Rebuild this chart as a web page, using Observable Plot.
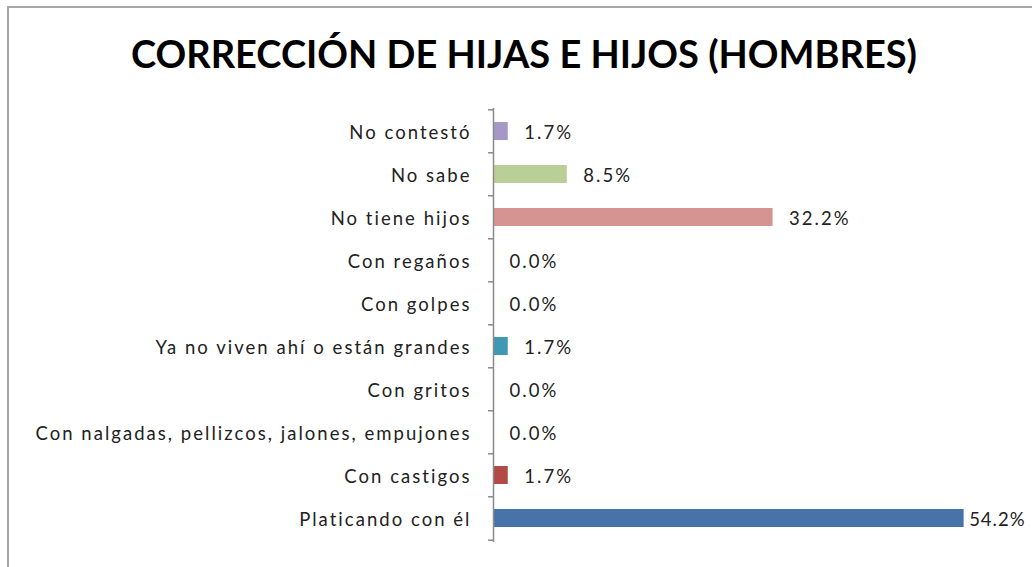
<!DOCTYPE html>
<html>
<head>
<meta charset="utf-8">
<script src="https://cdn.jsdelivr.net/npm/d3@7"></script>
<script src="https://cdn.jsdelivr.net/npm/@observablehq/plot@0.6"></script>
<style>
  html, body { margin: 0; padding: 0; background: #fff; }
  #wrap { position: relative; width: 1032px; height: 567px; overflow: hidden; background: #fff; }
  #frame { position: absolute; left: 7px; top: 6px; width: 1100px; height: 700px; border: 2px solid #a6a6a6; box-sizing: border-box; }
  #title { position: absolute; left: 0; top: 0; width: 1048px; height: 90px; text-align: center;
           font-family: Lato, "Open Sans", sans-serif; font-weight: bold; font-size: 38px; line-height: 38px;
           padding-top: 34px; box-sizing: border-box; color: #000; white-space: nowrap; }
  #chart { position: absolute; left: 0; top: 90px; }
  #chart svg { overflow: visible; }
</style>
</head>
<body>
<div id="wrap">
  <div id="frame"></div>
  <div id="title">CORRECCIÓN DE HIJAS E HIJOS (HOMBRES)</div>
  <div id="chart"></div>
</div>
<script>
const categories = [
  "No contestó",
  "No sabe",
  "No tiene hijos",
  "Con regaños",
  "Con golpes",
  "Ya no viven ahí o están grandes",
  "Con gritos",
  "Con nalgadas, pellizcos, jalones, empujones",
  "Con castigos",
  "Platicando con él"
];
const values = [1.7, 8.5, 32.2, 0.0, 0.0, 1.7, 0.0, 0.0, 1.7, 54.2];
const colors = ["#a597c6", "#bacf98", "#d59392", "#f79646", "#8064a2", "#3f99b3", "#9bbb59", "#c0504d", "#b24a47", "#4773a9"];

const data = categories.map((c, i) => ({category: c, value: values[i], color: colors[i]}));

const W = 1032, H = 477;
const mTop = 18, mBottom = 25, mLeft = 493, mRight = 18;
const step = (H - mTop - mBottom) / categories.length;
const font = "Lato, 'Open Sans', sans-serif";
const fs = 18.5;

const chart = Plot.plot({
  width: W,
  height: H,
  marginTop: mTop,
  marginBottom: mBottom,
  marginLeft: mLeft,
  marginRight: mRight,
  style: {fontFamily: font, fontSize: fs + "px", color: "#222", background: "transparent"},
  x: {domain: [0, 60], axis: null},
  y: {domain: categories, paddingInner: 0.58, paddingOuter: 0.29, axis: null},
  marks: [
    Plot.barX(data, {y: "category", x: "value", fill: "color"}),
    Plot.ruleX([0], {stroke: "#8a8a8a", strokeWidth: 1.5}),
    Plot.ruleY(categories, {y: d => d, x1: 0, x2: 0, insetLeft: -5, dy: -step / 2, stroke: "#8a8a8a", strokeWidth: 1.5}),
    Plot.ruleY([categories[categories.length - 1]], {y: d => d, x1: 0, x2: 0, insetLeft: -5, dy: step / 2, stroke: "#8a8a8a", strokeWidth: 1.5}),
    Plot.axisY({tickSize: 0, tickPadding: 22, fontSize: fs, fill: "#222", dy: 2, label: null, className: "ylab"}),
    Plot.text(data.filter(d => d.value < 50), {y: "category", x: "value", text: d => d.value.toFixed(1) + "%",
      textAnchor: "start", dx: 16, dy: 2, fontSize: fs, fill: "#222", className: "vlab"}),
    Plot.text(data.filter(d => d.value >= 50), {y: "category", x: "value", text: d => d.value.toFixed(1) + "%",
      textAnchor: "start", dx: 5, dy: 2, fontSize: fs, fill: "#222", className: "vlab"})
  ]
});
document.getElementById("chart").appendChild(chart);

// widen the label lettering to match the reference's spaced-out text
const labels = Array.from(chart.querySelectorAll("text")).filter(t => categories.includes(t.textContent));
let longest = labels.reduce((a, t) => t.textContent.length > a.textContent.length ? t : a, labels[0]);
const natural = longest.getComputedTextLength();
const ls = Math.max(0, (436 - natural) / longest.textContent.length);
chart.querySelectorAll("text").forEach(t => { t.style.letterSpacing = ls.toFixed(2) + "px"; });
// keep the last value label inside the picture
chart.querySelectorAll("g[aria-label='text'] text").forEach(t => {
  if (t.textContent.startsWith("54")) t.style.letterSpacing = Math.min(ls, 1).toFixed(2) + "px";
});
</script>
</body>
</html>
